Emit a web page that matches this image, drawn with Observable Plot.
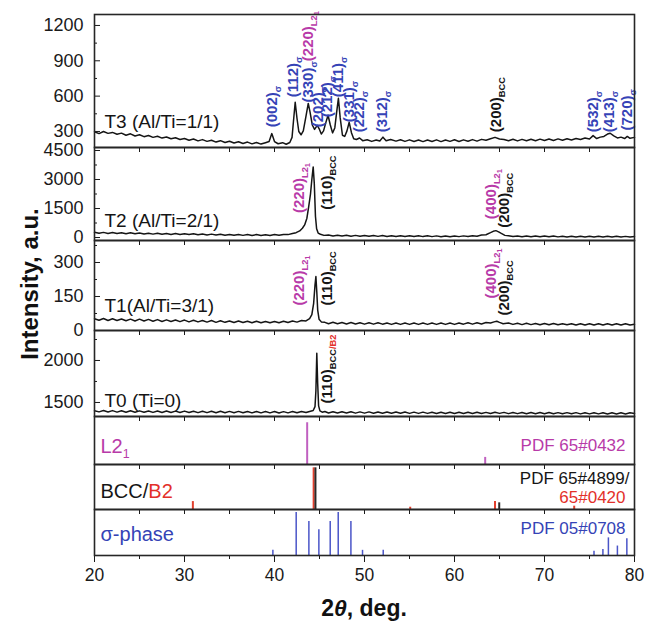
<!DOCTYPE html>
<html><head><meta charset="utf-8">
<script src="https://cdn.jsdelivr.net/npm/d3@7"></script>
<script src="https://cdn.jsdelivr.net/npm/@observablehq/plot@0.6"></script>
<style>
body{margin:0;background:#fff;font-family:"Liberation Sans",Arial,Helvetica,sans-serif;}
#chart{position:relative;width:647px;height:625px;overflow:hidden;background:#fff;}
#chart svg{position:absolute;left:0;margin:0;}
.ttl{position:absolute;font-weight:bold;color:#111;white-space:nowrap;}
</style></head><body><div id="chart"></div>
<script>
// ---------------- DATA ----------------
const xTickLabels = [20, 30, 40, 50, 60, 70, 80];
const xMinorTicks = [25, 35, 45, 55, 65, 75];
const xPanelTicks = [20, 25, 30, 35, 40, 45, 50, 55, 60, 65, 70, 75, 80];

const sampleNames = ["T3 (Al/Ti=1/1)", "T2 (Al/Ti=2/1)", "T1(Al/Ti=3/1)", "T0 (Ti=0)"];

const t3YTicks = [300, 600, 900, 1200], t3YMinor = [450, 750, 1050];
const t2YTicks = [0, 1500, 3000, 4500], t2YMinor = [750, 2250, 3750];
const t1YTicks = [0, 150, 300], t1YMinor = [75, 225, 375];
const t0YTicks = [1500, 2000], t0YMinor = [1750, 2250];

// spectra: [2theta, intensity]
const t3 = [[20,298],[20.5,282],[21,300],[21.5,284],[22,292],[22.5,276],[23,286],[23.5,268],[24,280],[24.5,262],[25,272],[25.5,256],[26,266],[26.5,250],[27,259],[27.5,244],[28,253],[28.5,238],[29,247],[29.5,232],[30,241],[30.5,226],[31,236],[31.5,220],[32,231],[32.5,216],[33,226],[33.5,210],[34,222],[34.5,206],[35,217],[35.5,202],[36,213],[36.5,198],[37,210],[37.5,195],[38,207],[38.5,193],[39,205],[39.4,215],[39.7,282],[40,214],[40.4,196],[40.9,205],[41.3,192],[41.7,206],[41.95,250],[42.1,380],[42.3,548],[42.5,410],[42.7,300],[42.95,272],[43.2,305],[43.5,430],[43.75,538],[43.95,465],[44.2,355],[44.45,318],[44.75,352],[44.95,325],[45.2,278],[45.45,305],[45.7,375],[45.95,438],[46.2,355],[46.45,288],[46.7,330],[46.9,460],[47.1,582],[47.3,415],[47.55,268],[47.8,258],[48.05,305],[48.3,378],[48.55,290],[48.8,238],[49.1,232],[49.45,245],[49.8,222],[50.3,230],[50.8,216],[51.3,228],[51.7,220],[52.05,252],[52.4,222],[52.9,232],[53.5,218],[54,230],[54.5,216],[55,229],[55.5,215],[56,228],[56.5,214],[57,228],[57.5,215],[58,229],[58.5,214],[59,228],[59.5,216],[60,230],[60.5,215],[61,229],[61.5,217],[62,231],[62.5,218],[63,233],[63.5,226],[64,238],[64.5,250],[65,236],[65.5,232],[66,222],[66.5,234],[67,220],[67.5,233],[68,221],[68.5,234],[69,222],[69.5,235],[70,223],[70.5,236],[71,224],[71.5,237],[72,226],[72.5,238],[73,228],[73.5,240],[74,232],[74.5,244],[75,236],[75.4,265],[75.8,240],[76.2,252],[76.6,258],[77,278],[77.3,285],[77.7,262],[78.1,245],[78.5,252],[78.9,240],[79.2,258],[79.5,242],[80,250]];

const t2 = [[20,270],[20.5,215],[21,265],[21.5,210],[22,255],[22.5,205],[23,250],[23.5,195],[24,245],[24.5,190],[25,235],[25.5,185],[26,225],[26.5,175],[27,220],[27.5,170],[28,210],[28.5,160],[29,205],[29.5,155],[30,195],[30.5,150],[31,190],[31.5,140],[32,180],[32.5,135],[33,175],[33.5,125],[34,170],[34.5,120],[35,160],[35.5,115],[36,155],[36.5,110],[37,150],[37.5,105],[38,150],[38.5,105],[39,145],[39.5,105],[40,150],[40.5,115],[41,160],[41.5,150],[42,210],[42.4,250],[42.8,340],[43.1,480],[43.35,650],[43.6,1000],[43.8,1600],[44,2250],[44.15,3000],[44.3,3650],[44.42,2800],[44.55,1100],[44.68,450],[44.85,230],[45.1,170],[45.5,110],[46,130],[46.5,80],[47,120],[47.5,75],[48,115],[48.5,70],[49,110],[49.5,65],[50,105],[50.5,60],[51,100],[51.5,58],[52,98],[52.5,55],[53,95],[53.5,52],[54,92],[54.5,50],[55,90],[55.5,48],[56,88],[56.5,46],[57,86],[57.5,45],[58,84],[58.5,44],[59,82],[59.5,44],[60,82],[60.5,45],[61,84],[61.5,52],[62,95],[62.5,70],[63,125],[63.5,140],[64,250],[64.3,320],[64.6,355],[64.9,290],[65.2,210],[65.6,110],[66,95],[66.5,55],[67,80],[67.5,40],[68,78],[68.5,38],[69,76],[69.5,36],[70,74],[70.5,34],[71,72],[71.5,32],[72,70],[72.5,30],[73,68],[73.5,30],[74,66],[74.5,28],[75,65],[75.5,28],[76,64],[76.5,27],[77,62],[77.5,26],[78,60],[78.5,25],[79,58],[79.5,25],[80,50]];

const t1 = [[20,52],[20.5,45],[21,53],[21.5,44],[22,52],[22.5,44],[23,51],[23.5,43],[24,50],[24.5,42],[25,50],[25.5,42],[26,49],[26.5,41],[27,48],[27.5,40],[28,47],[28.5,40],[29,46],[29.5,39],[30,46],[30.5,38],[31,45],[31.5,38],[32,44],[32.5,37],[33,44],[33.5,36],[34,43],[34.5,36],[35,42],[35.5,35],[36,42],[36.5,35],[37,41],[37.5,34],[38,41],[38.5,34],[39,40],[39.5,34],[40,40],[40.5,34],[41,41],[41.5,35],[42,42],[42.5,37],[43,44],[43.5,42],[43.9,52],[44.15,70],[44.35,120],[44.5,200],[44.6,238],[44.7,170],[44.8,90],[44.95,50],[45.2,38],[45.6,36],[46,30],[46.5,36],[47,30],[47.5,35],[48,29],[48.5,35],[49,29],[49.5,34],[50,28],[50.5,34],[51,28],[51.5,34],[52,28],[52.5,33],[53,27],[53.5,33],[54,27],[54.5,33],[55,27],[55.5,33],[56,27],[56.5,33],[57,27],[57.5,33],[58,27],[58.5,33],[59,27],[59.5,33],[60,27],[60.5,33],[61,28],[61.5,34],[62,28],[62.5,34],[63,29],[63.5,35],[64,33],[64.4,38],[64.7,41],[65,36],[65.4,30],[66,33],[66.5,27],[67,32],[67.5,26],[68,32],[68.5,26],[69,31],[69.5,25],[70,31],[70.5,25],[71,31],[71.5,25],[72,30],[72.5,25],[73,30],[73.5,24],[74,30],[74.5,24],[75,30],[75.5,24],[76,30],[76.5,24],[77,30],[77.5,24],[78,30],[78.5,24],[79,30],[79.5,24],[80,28]];

const t0 = [[20,1402],[20.5,1388],[21,1404],[21.5,1386],[22,1403],[22.5,1385],[23,1402],[23.5,1384],[24,1401],[24.5,1383],[25,1400],[25.5,1383],[26,1399],[26.5,1382],[27,1399],[27.5,1381],[28,1398],[28.5,1381],[29,1397],[29.5,1380],[30,1397],[30.5,1380],[31,1396],[31.5,1379],[32,1396],[32.5,1379],[33,1395],[33.5,1378],[34,1395],[34.5,1378],[35,1394],[35.5,1377],[36,1394],[36.5,1377],[37,1393],[37.5,1376],[38,1393],[38.5,1376],[39,1392],[39.5,1376],[40,1392],[40.5,1375],[41,1391],[41.5,1376],[42,1392],[42.5,1377],[43,1393],[43.5,1380],[44,1396],[44.3,1405],[44.5,1450],[44.6,1640],[44.7,2085],[44.8,1720],[44.9,1460],[45.05,1400],[45.3,1384],[45.6,1392],[46,1375],[46.5,1390],[47,1374],[47.5,1389],[48,1374],[48.5,1389],[49,1373],[49.5,1388],[50,1373],[50.5,1388],[51,1372],[51.5,1387],[52,1372],[52.5,1387],[53,1371],[53.5,1386],[54,1371],[54.5,1386],[55,1370],[55.5,1385],[56,1370],[56.5,1385],[57,1370],[57.5,1384],[58,1369],[58.5,1384],[59,1369],[59.5,1384],[60,1369],[60.5,1383],[61,1368],[61.5,1383],[62,1368],[62.5,1383],[63,1368],[63.5,1382],[64,1368],[64.5,1384],[65,1370],[65.5,1382],[66,1367],[66.5,1381],[67,1367],[67.5,1381],[68,1366],[68.5,1380],[69,1366],[69.5,1380],[70,1366],[70.5,1380],[71,1365],[71.5,1379],[72,1365],[72.5,1379],[73,1365],[73.5,1379],[74,1364],[74.5,1378],[75,1364],[75.5,1378],[76,1364],[76.5,1378],[77,1363],[77.5,1377],[78,1363],[78.5,1377],[79,1363],[79.5,1377],[80,1370]];

// reference stick patterns: [2theta, relative intensity]
const l21Sticks = [[43.63, 100], [63.41, 17]];
const bccSticks = [[44.55, 100], [64.97, 16]];
const b2Sticks = [[30.93, 19], [44.35, 100], [55.08, 5.5], [64.5, 19], [73.3, 8]];
const sigmaSticks = [[39.82, 12], [42.41, 100], [43.82, 79], [44.93, 60], [46.19, 79], [47.08, 100], [48.49, 79], [49.78, 12], [52.08, 12], [75.5, 10], [76.49, 14], [77.1, 41], [78.1, 22], [79.15, 39]];

// peak labels: segments [text, colour, level(0 normal,1 sub,2 subsub)]
const sig = n => [[n, "b"], ["σ", "b", 1]];
const l2 = n => [[n, "m"], ["L2", "m", 1], ["1", "m", 2]];
const bcc = n => [[n, "k"], ["BCC", "k", 1]];
const t3Labels = [
  {x: 39.71, y: 336, segs: sig("(002)")},
  {x: 42.11, y: 591, segs: sig("(112)")},
  {x: 43.78, y: 545, segs: [...sig("(330)"), ...l2("(220)")]},
  {x: 44.89, y: 336, segs: sig("(202)")},
  {x: 45.90, y: 421, segs: sig("(212)")},
  {x: 47.10, y: 591, segs: sig("(411)")},
  {x: 48.34, y: 379, segs: sig("(331)")},
  {x: 49.44, y: 294, segs: sig("(222)")},
  {x: 51.93, y: 294, segs: sig("(312)")},
  {x: 64.63, y: 294, segs: bcc("(200)")},
  {x: 75.45, y: 294, segs: sig("(532)")},
  {x: 77.22, y: 294, segs: sig("(413)")},
  {x: 79.15, y: 308, segs: sig("(720)")}
];
const t2Labels = [
  {x: 42.75, y: 1265, segs: l2("(220)")},
  {x: 45.86, y: 1435, segs: bcc("(110)")},
  {x: 64.08, y: 950, segs: l2("(400)")},
  {x: 65.52, y: 500, segs: bcc("(200)")}
];
const t1Labels = [
  {x: 42.75, y: 110, segs: l2("(220)")},
  {x: 45.86, y: 110, segs: bcc("(110)")},
  {x: 64.08, y: 141, segs: l2("(400)")},
  {x: 65.52, y: 66, segs: bcc("(200)")}
];
const t0Labels = [
  {x: 45.86, y: 1488, segs: [["(110)", "k"], ["BCC", "k", 1], ["/B2", "r", 1]]}
];

const refNames = {
  l21: [{segs: [["L2", "m"], ["1", "m", 1]]}],
  bcc: [{segs: [["BCC/", "k"], ["B2", "r"]]}],
  sig: [{segs: [["σ-phase", "b"]]}]
};
const pdfNames = {l21: "PDF 65#0432", bccA: "PDF 65#4899/", bccB: "65#0420", sig: "PDF 05#0708"};

// ---------------- DRAWING ----------------
const FONT = '"Liberation Sans", Arial, Helvetica, sans-serif';
const COL = {b: "#3543b6", m: "#b83aa8", k: "#161616", r: "#e3302a"};
const STICK = {m: "#c060c0", b: "#4a55c8", k: "#2a2a2a", r: "#e2402e"};
const chart = document.getElementById("chart");
const segText = d => d.segs.map(s => s[0]).join("");

// turn plain label strings into coloured runs with subscripts
function rich(svg, rows, base) {
  const sizes = [1, 0.62, 0.5], shifts = [0, 0.27, 0.4];
  const map = new Map(rows.map(r => [segText(r), r.segs]));
  d3.select(svg).selectAll("text").each(function () {
    const segs = map.get(this.textContent);
    if (!segs) return;
    const el = d3.select(this);
    el.text(null);
    let cur = 0;
    for (const [t, c, lv = 0] of segs) {
      const sh = shifts[lv] * base;
      el.append("tspan").attr("fill", COL[c]).attr("font-size", sizes[lv] * base).attr("dy", sh - cur).text(t);
      cur = sh;
    }
  });
}

function panel({top, h, yDomain, yTicks, yMinor, marks, last = false, rows = null, base = 15}) {
  const mb = last ? 70 : 10;
  const m = [...marks];
  if (yTicks) {
    m.push(Plot.axisY({ticks: yTicks, tickSize: 6, dx: 6, tickPadding: 11, fontSize: 18, tickFormat: d3.format("d"), label: null}));
    m.push(Plot.axisY({ticks: yMinor, tickSize: 3, dx: 3, tickFormat: () => "", label: null}));
  }
  if (last) {
    m.push(Plot.axisX({ticks: xTickLabels, tickSize: 7, tickPadding: 6, fontSize: 17.5, tickFormat: d3.format("d"), label: null}));
    m.push(Plot.axisX({ticks: xMinorTicks, tickSize: 4, tickFormat: () => "", label: null}));
  } else {
    m.push(Plot.axisX({ticks: xPanelTicks, tickSize: 5, tickFormat: () => "", label: null}));
  }
  m.push(Plot.frame({stroke: "#262626", strokeWidth: 1.6}));
  const svg = Plot.plot({
    width: 647, height: h + mb,
    marginLeft: 94, marginRight: 13, marginTop: 0, marginBottom: mb,
    x: {domain: [20, 80]},
    y: yTicks ? {domain: yDomain} : {domain: yDomain, axis: null},
    style: {background: "transparent", overflow: "visible", fontFamily: FONT, color: "#1a1a1a"},
    marks: m
  });
  svg.style.top = top + "px";
  chart.appendChild(svg);
  if (rows) rich(svg, rows, base);
  return svg;
}

const specLine = data => Plot.line(data, {x: d => d[0], y: d => d[1], stroke: "#151515", strokeWidth: 1.5});
const peakText = data => Plot.text(data, {x: "x", y: "y", text: segText, rotate: -90, textAnchor: "start",
  fontSize: 15, fontWeight: "bold"});
const nameText = (name, dy) => Plot.text([name], {text: d => d, frameAnchor: "bottom-left", dx: 10, dy,
  textAnchor: "start", lineAnchor: "middle", fontSize: 19, fill: "#151515"});

// T3
panel({top: 14, h: 133, yDomain: [164, 1293], yTicks: t3YTicks, yMinor: t3YMinor,
  marks: [specLine(t3), peakText(t3Labels), nameText(sampleNames[0], -26)], rows: t3Labels});
// T2
panel({top: 147, h: 93, yDomain: [-155, 4655], yTicks: t2YTicks, yMinor: t2YMinor,
  marks: [specLine(t2), peakText(t2Labels), nameText(sampleNames[1], -20)], rows: t2Labels});
// T1
panel({top: 240, h: 90, yDomain: [0, 397], yTicks: t1YTicks, yMinor: t1YMinor,
  marks: [specLine(t1), peakText(t1Labels), nameText(sampleNames[2], -25)], rows: t1Labels});
// T0
panel({top: 330, h: 86, yDomain: [1333, 2357], yTicks: t0YTicks, yMinor: t0YMinor,
  marks: [specLine(t0), peakText(t0Labels), nameText(sampleNames[3], -16)], rows: t0Labels});

const sticks = (data, color, w) => Plot.ruleX(data, {x: d => d[0], y1: 0, y2: d => d[1], stroke: color, strokeWidth: w});
const refName = (data, dy) => Plot.text(data, {text: segText, frameAnchor: "top-left", dx: 6, dy,
  textAnchor: "start", lineAnchor: "middle", fontSize: 20});
const pdf = (t, color, dy, dx = -9) => Plot.text([t], {text: d => d, frameAnchor: "top-right", dx, dy,
  textAnchor: "end", lineAnchor: "middle", fontSize: 17, fill: color});

// L2_1 reference
panel({top: 416, h: 48, yDomain: [0, 115],
  marks: [sticks(l21Sticks, STICK.m, 2), refName(refNames.l21, 29.6), pdf(pdfNames.l21, COL.m, 28.6)],
  rows: refNames.l21, base: 20});
// BCC / B2 reference
panel({top: 464, h: 45, yDomain: [0, 108],
  marks: [sticks(b2Sticks, STICK.r, 2), sticks(bccSticks, STICK.k, 2), refName(refNames.bcc, 26.6),
    pdf(pdfNames.bccA, COL.k, 13.6, -5), pdf(pdfNames.bccB, COL.r, 32.6)],
  rows: refNames.bcc, base: 20});
// sigma reference
panel({top: 509, h: 46, yDomain: [0, 107], last: true,
  marks: [sticks(sigmaSticks, STICK.b, 1.5), refName(refNames.sig, 24.6), pdf(pdfNames.sig, COL.b, 18.6)],
  rows: refNames.sig, base: 20});

// axis titles
const yt = document.createElement("div");
yt.className = "ttl";
yt.style.fontSize = "24px";
yt.textContent = "Intensity, a.u.";
yt.style.left = "30px"; yt.style.top = "284px";
yt.style.transform = "translate(-50%,-50%) rotate(-90deg)";
chart.appendChild(yt);
const xt = document.createElement("div");
xt.className = "ttl";
xt.style.fontSize = "23px";
xt.innerHTML = "2<i>θ</i>, deg.";
xt.style.left = "364px"; xt.style.top = "608px";
xt.style.transform = "translate(-50%,-50%)";
chart.appendChild(xt);
</script></body></html>
